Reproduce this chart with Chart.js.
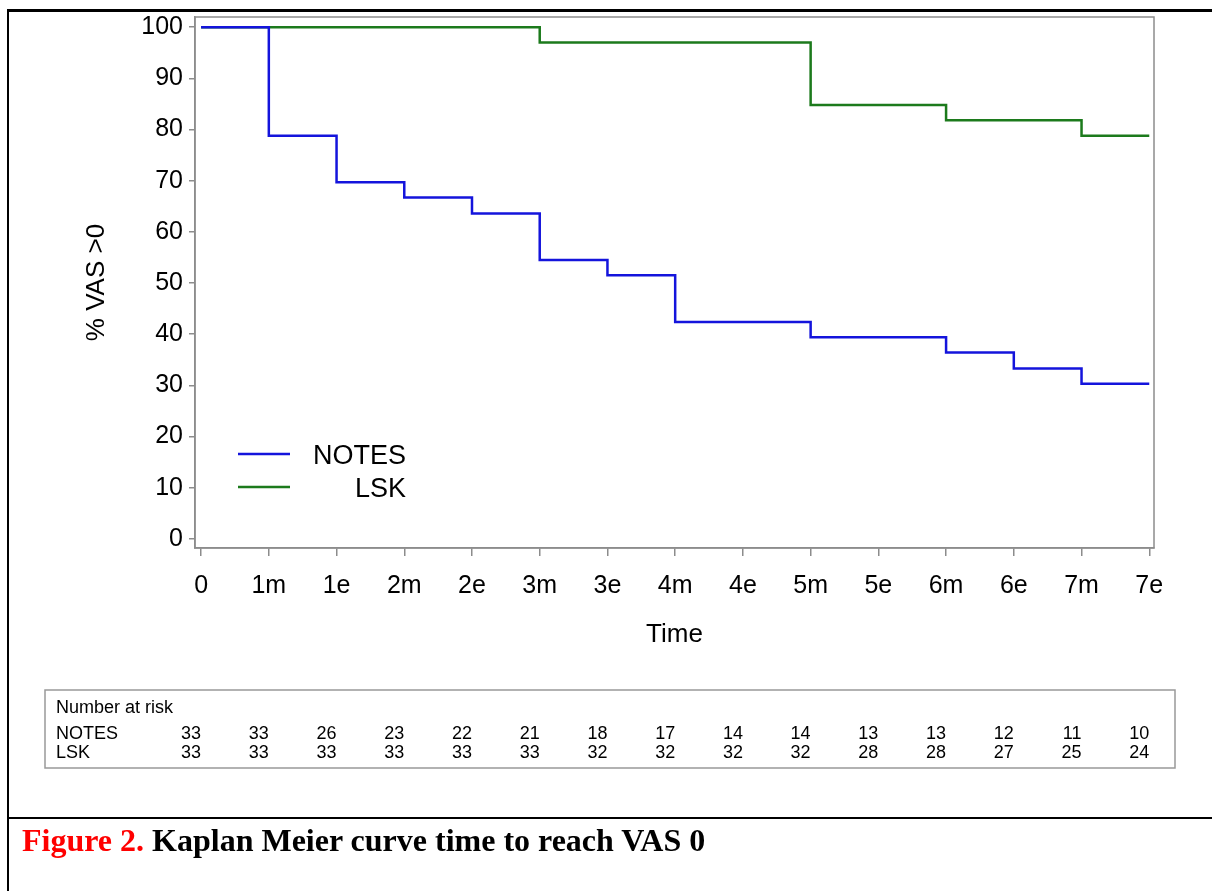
<!DOCTYPE html>
<html lang="en">
<head>
    <meta charset="UTF-8">
    <title>Kaplan Meier curve</title>
    <script src="https://cdn.jsdelivr.net/npm/chart.js@4.4.1/dist/chart.umd.min.js"></script>
    <style>
        html, body { margin: 0; padding: 0; background: #fff; }
        #wrap { position: relative; width: 1212px; height: 891px; overflow: hidden; }
        #myChart { position: absolute; left: 0; top: 0; }
        .rule { position: absolute; background: #000; }
        #caption {
            position: absolute; left: 22px; top: 822px;
            font-family: "Liberation Serif", "Times New Roman", serif;
            font-weight: bold; font-size: 32px; color: #000; white-space: nowrap;
        }
        #caption span { color: #ff0000; }
    </style>
</head>
<body>
<div id="wrap">
    <canvas id="myChart" width="1212" height="891"></canvas>
    <div class="rule" style="left:7px; top:9px; width:1205px; height:3px;"></div>
    <div class="rule" style="left:7px; top:9px; width:2px; height:882px;"></div>
    <div class="rule" style="left:7px; top:817px; width:1205px; height:2px;"></div>
    <div id="caption"><span>Figure 2.</span> Kaplan Meier curve time to reach VAS 0</div>
</div>
<script>
    // time points (x index) and their labels
    const timeLabels = ['0', '1m', '1e', '2m', '2e', '3m', '3e', '4m', '4e', '5m', '5e', '6m', '6e', '7m', '7e'];
    const yTicks = [0, 10, 20, 30, 40, 50, 60, 70, 80, 90, 100];

    // % VAS > 0 at each time point (value after the drop)
    const notesSurvival = [100, 78.8, 69.7, 66.7, 63.6, 54.5, 51.5, 42.4, 42.4, 39.4, 39.4, 36.4, 33.3, 30.3, 30.3];
    const lskSurvival   = [100, 100, 100, 100, 100, 97.0, 97.0, 97.0, 97.0, 84.8, 84.8, 81.8, 81.8, 78.8, 78.8];

    // number at risk table
    const notesAtRisk = [33, 33, 26, 23, 22, 21, 18, 17, 14, 14, 13, 13, 12, 11, 10];
    const lskAtRisk   = [33, 33, 33, 33, 33, 33, 32, 32, 32, 32, 28, 28, 27, 25, 24];

    const FONT = '"Liberation Sans", Arial, sans-serif';
    const AXIS_GRAY = '#8c8c8c';
    const BLUE = '#1414dc';
    const GREEN = '#1c7a1c';

    const toPoints = arr => arr.map((v, i) => ({ x: i, y: v }));

    // frame around the plot + legend inside the plot + risk table below
    const extrasPlugin = {
        id: 'extras',
        afterDraw(chart) {
            const ctx = chart.ctx;
            const a = chart.chartArea;
            const xs = chart.scales.x;
            ctx.save();

            ctx.strokeStyle = AXIS_GRAY;
            ctx.lineWidth = 1.5;
            ctx.strokeRect(a.left, a.top, a.right - a.left, a.bottom - a.top);

            // legend
            ctx.font = '27px ' + FONT;
            ctx.textBaseline = 'middle';
            const legendRows = [{ ds: chart.data.datasets[0], y: 457 }, { ds: chart.data.datasets[1], y: 490 }];
            legendRows.forEach(r => {
                ctx.strokeStyle = r.ds.borderColor;
                ctx.lineWidth = 2.5;
                ctx.beginPath();
                ctx.moveTo(238, r.y - 3);
                ctx.lineTo(290, r.y - 3);
                ctx.stroke();
                ctx.fillStyle = '#000';
                ctx.textAlign = 'right';
                ctx.fillText(r.ds.label, 406, r.y);
            });

            // number at risk box
            ctx.strokeStyle = '#999';
            ctx.lineWidth = 1.5;
            ctx.strokeRect(45, 690, 1130, 78);
            ctx.fillStyle = '#000';
            ctx.font = '18px ' + FONT;
            ctx.textAlign = 'left';
            ctx.fillText('Number at risk', 56, 708);
            ctx.fillText('NOTES', 56, 734);
            ctx.fillText('LSK', 56, 753);
            ctx.textAlign = 'right';
            notesAtRisk.forEach((n, i) => ctx.fillText(String(n), xs.getPixelForValue(i), 734));
            lskAtRisk.forEach((n, i) => ctx.fillText(String(n), xs.getPixelForValue(i), 753));

            ctx.restore();
        }
    };

    const ctx = document.getElementById('myChart').getContext('2d');
    new Chart(ctx, {
        type: 'line',
        data: {
            datasets: [
                {
                    label: 'NOTES',
                    data: toPoints(notesSurvival),
                    borderColor: BLUE,
                    borderWidth: 2.5,
                    stepped: 'before',
                    pointRadius: 0,
                    fill: false
                },
                {
                    label: 'LSK',
                    data: toPoints(lskSurvival),
                    borderColor: GREEN,
                    borderWidth: 2.5,
                    stepped: 'before',
                    pointRadius: 0,
                    fill: false
                }
            ]
        },
        options: {
            responsive: false,
            animation: false,
            layout: { padding: { left: 70, top: 17, right: 58, bottom: 241 } },
            plugins: {
                legend: { display: false },
                tooltip: { enabled: false }
            },
            scales: {
                x: {
                    type: 'linear',
                    min: -0.09,
                    max: 14.07,
                    afterBuildTicks: s => { s.ticks = timeLabels.map((_, i) => ({ value: i })); },
                    afterFit: s => { s.height = 102; },
                    border: { display: true, color: AXIS_GRAY, width: 1.5 },
                    grid: { drawOnChartArea: false, color: AXIS_GRAY, tickLength: 8, lineWidth: 1.5 },
                    ticks: {
                        padding: 15,
                        color: '#000',
                        font: { family: FONT, size: 25 },
                        maxRotation: 0,
                        autoSkip: false,
                        callback: v => timeLabels[v]
                    },
                    title: {
                        display: true,
                        text: 'Time',
                        color: '#000',
                        font: { family: FONT, size: 26 },
                        padding: { top: 0, bottom: 0 }
                    }
                },
                y: {
                    min: -1.8,
                    max: 102,
                    afterBuildTicks: s => { s.ticks = yTicks.map(v => ({ value: v })); },
                    afterFit: s => { s.width = 125; s.paddingTop = 0; s.paddingBottom = 0; },
                    border: { display: true, color: AXIS_GRAY, width: 1.5 },
                    grid: { drawOnChartArea: false, color: AXIS_GRAY, tickLength: 6, lineWidth: 1.5 },
                    ticks: {
                        padding: 6,
                        color: '#000',
                        font: { family: FONT, size: 25 }
                    },
                    title: {
                        display: true,
                        text: '% VAS >0',
                        color: '#000',
                        font: { family: FONT, size: 26 },
                        padding: { top: 11, bottom: 0 }
                    }
                }
            }
        },
        plugins: [extrasPlugin]
    });
</script>
</body>
</html>
